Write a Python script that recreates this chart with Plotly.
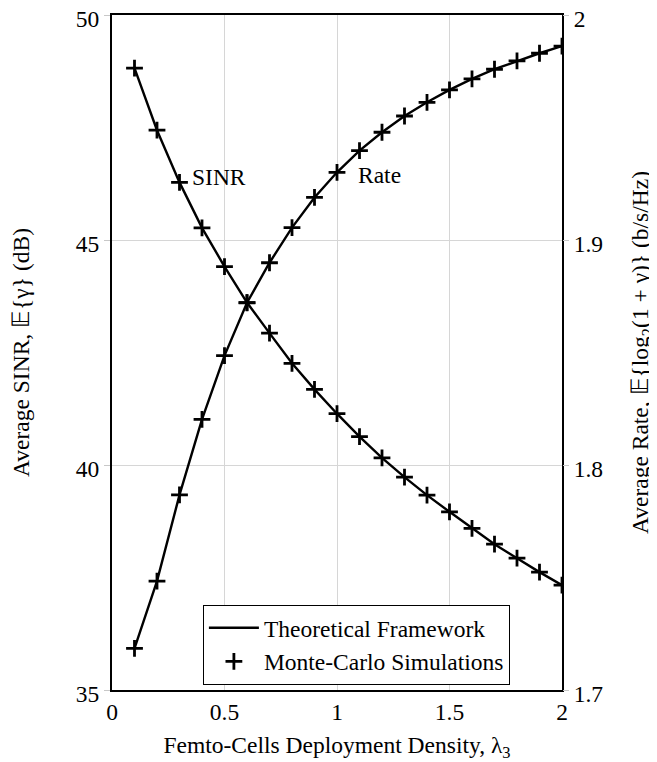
import plotly.graph_objects as go

density = [0.1, 0.2, 0.3, 0.4, 0.5, 0.6, 0.7, 0.8, 0.9, 1.0,
           1.1, 1.2, 1.3, 1.4, 1.5, 1.6, 1.7, 1.8, 1.9, 2.0]
sinr_db = [48.82, 47.44, 46.28, 45.27, 44.41, 43.61, 42.93, 42.26, 41.68, 41.14,
           40.63, 40.16, 39.73, 39.33, 38.96, 38.59, 38.24, 37.93, 37.62, 37.33]
rate_bps = [1.7185, 1.7484, 1.7867, 1.8203, 1.8486, 1.8721, 1.8899, 1.9055, 1.9189, 1.9301,
            1.9397, 1.9479, 1.9551, 1.9612, 1.9667, 1.9716, 1.9759, 1.9796, 1.9830, 1.9862]

left_ticks = [35, 40, 45, 50]
right_ticks = [1.7, 1.8, 1.9, 2.0]
right_tick_text = ["1.7", "1.8", "1.9", "2"]
x_ticks = [0, 0.5, 1, 1.5, 2]
x_tick_text = ["0", "0.5", "1", "1.5", "2"]

FONT = "Liberation Serif"
FS = 23.5

fig = go.Figure()
fig.add_trace(go.Scatter(x=density, y=sinr_db, mode="lines", name="Theoretical Framework",
                         line=dict(color="black", width=2.4), yaxis="y", showlegend=True))
fig.add_trace(go.Scatter(x=density, y=rate_bps, mode="lines", name="Theoretical Framework",
                         line=dict(color="black", width=2.4), yaxis="y2", showlegend=False))
fig.add_trace(go.Scatter(x=density, y=sinr_db, mode="markers", name="Monte-Carlo Simulations",
                         marker=dict(symbol="cross-thin", size=12, line=dict(color="black", width=2.8)),
                         yaxis="y", showlegend=True))
fig.add_trace(go.Scatter(x=density, y=rate_bps, mode="markers", name="Monte-Carlo Simulations",
                         marker=dict(symbol="cross-thin", size=12, line=dict(color="black", width=2.8)),
                         yaxis="y2", showlegend=False))

fig.update_layout(
    width=649, height=754,
    margin=dict(l=104, r=95, t=7, b=72, autoexpand=False),
    paper_bgcolor="white", plot_bgcolor="white",
    font=dict(family=FONT, color="black", size=FS),
    xaxis=dict(range=[0, 2], tickvals=x_ticks, ticktext=x_tick_text,
               showgrid=True, gridcolor="#d6d6d6", gridwidth=1,
               showline=True, linecolor="black", linewidth=2, mirror=True,
               ticks="", tickfont=dict(family=FONT, size=FS), zeroline=False, automargin=False,
               ticklabeloverflow="allow",
               title=dict(text="Femto-Cells Deployment Density, λ<sub>3</sub>",
                          font=dict(family=FONT, size=FS), standoff=16)),
    yaxis=dict(range=[35, 50], tickvals=left_ticks, ticktext=[str(v) for v in left_ticks],
               showgrid=True, gridcolor="#d6d6d6", gridwidth=1,
               showline=True, linecolor="black", linewidth=2, mirror=True,
               ticks="outside", ticklen=6, tickcolor="#c8c8c8", tickfont=dict(family=FONT, size=FS),
               zeroline=False, automargin=False, ticklabeloverflow="allow", ticklabelshift=4,
               title=dict(text="Average SINR, 𝔼{γ} (dB)", font=dict(family=FONT, size=FS), standoff=43)),
    yaxis2=dict(range=[1.7, 2.0], tickvals=right_ticks, ticktext=right_tick_text,
                overlaying="y", side="right", showgrid=False,
                showline=False, ticks="outside", ticklen=6, tickcolor="#c8c8c8",
                tickfont=dict(family=FONT, size=FS), zeroline=False, automargin=False,
                ticklabeloverflow="allow", ticklabelshift=4,
                title=dict(text="Average Rate, 𝔼{log<sub>2</sub>(1 + γ)} (b/s/Hz)",
                           font=dict(family=FONT, size=FS), standoff=34)),
    legend=dict(x=0.202, y=0.126, xanchor="left", yanchor="top",
                bordercolor="black", borderwidth=1, bgcolor="white",
                font=dict(family=FONT, size=FS), tracegroupgap=0, itemwidth=50),
    annotations=[
        dict(x=0.347, y=46.4, xref="x", yref="y", text="SINR", showarrow=False,
             xanchor="left", yanchor="middle", font=dict(family=FONT, size=FS)),
        dict(x=1.085, y=46.44, xref="x", yref="y", text="Rate", showarrow=False,
             xanchor="left", yanchor="middle", font=dict(family=FONT, size=FS)),
    ],
)

fig.write_html("out.html")
